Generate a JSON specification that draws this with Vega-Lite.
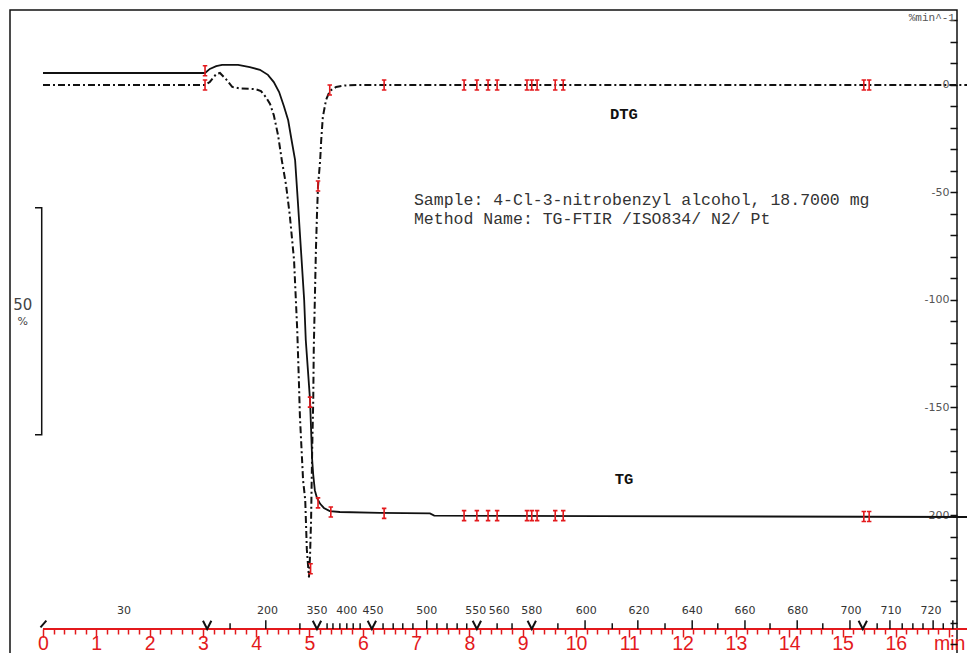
{
  "$schema": "https://vega.github.io/schema/vega-lite/v6.json",
  "width": 947,
  "height": 650,
  "autosize": {"type": "none"},
  "padding": {"left": 10, "top": 10, "right": 10, "bottom": 0},
  "background": "white",
  "config": {"view": {"stroke": "#111", "strokeWidth": 1.5}, "axis": {"grid": false, "labelOverlap": false, "labelFlush": false}},
  "datasets": {
    "dtg": [
      {"t": 0, "v": 0}, {"t": 3.04, "v": 0}, {"t": 3.13, "v": 1.4}, {"t": 3.25, "v": 5.1}, {"t": 3.32, "v": 5.6},
      {"t": 3.43, "v": 2.8}, {"t": 3.55, "v": -0.9}, {"t": 3.7, "v": -1.6}, {"t": 3.98, "v": -1.9}, {"t": 4.09, "v": -2.8},
      {"t": 4.18, "v": -5.6}, {"t": 4.26, "v": -8.8}, {"t": 4.33, "v": -14}, {"t": 4.41, "v": -23.3}, {"t": 4.48, "v": -34.9},
      {"t": 4.56, "v": -46.5}, {"t": 4.63, "v": -60.5}, {"t": 4.71, "v": -81.4}, {"t": 4.77, "v": -114}, {"t": 4.8, "v": -137},
      {"t": 4.82, "v": -154}, {"t": 4.88, "v": -184}, {"t": 4.92, "v": -193}, {"t": 4.95, "v": -216}, {"t": 4.99, "v": -229},
      {"t": 5.01, "v": -219}, {"t": 5.03, "v": -202}, {"t": 5.05, "v": -170}, {"t": 5.07, "v": -147}, {"t": 5.08, "v": -123},
      {"t": 5.1, "v": -100}, {"t": 5.12, "v": -77}, {"t": 5.14, "v": -60.5}, {"t": 5.16, "v": -47}, {"t": 5.2, "v": -35},
      {"t": 5.22, "v": -25.6}, {"t": 5.25, "v": -14.9}, {"t": 5.31, "v": -7}, {"t": 5.38, "v": -2.8}, {"t": 5.5, "v": -0.9},
      {"t": 5.67, "v": -0.2}, {"t": 5.95, "v": 0}, {"t": 17.34, "v": 0}
    ],
    "tg": [
      {"t": 0, "tg": 100}, {"t": 3.04, "tg": 100}, {"t": 3.13, "tg": 100.9}, {"t": 3.25, "tg": 101.5}, {"t": 3.36, "tg": 101.8},
      {"t": 3.66, "tg": 101.8}, {"t": 3.88, "tg": 101.3}, {"t": 4.07, "tg": 100.7}, {"t": 4.22, "tg": 99.6}, {"t": 4.33, "tg": 98.0},
      {"t": 4.43, "tg": 95.8}, {"t": 4.52, "tg": 92.7}, {"t": 4.6, "tg": 89.6}, {"t": 4.67, "tg": 84.8}, {"t": 4.73, "tg": 80.8},
      {"t": 4.78, "tg": 72.0}, {"t": 4.84, "tg": 61.0}, {"t": 4.9, "tg": 50.0}, {"t": 4.93, "tg": 41.2}, {"t": 4.97, "tg": 34.6},
      {"t": 5.01, "tg": 28.0}, {"t": 5.03, "tg": 21.4}, {"t": 5.05, "tg": 14.8}, {"t": 5.07, "tg": 11.5}, {"t": 5.1, "tg": 8.1},
      {"t": 5.14, "tg": 6.4}, {"t": 5.2, "tg": 5.1}, {"t": 5.27, "tg": 4.2}, {"t": 5.38, "tg": 3.5}, {"t": 5.57, "tg": 3.3},
      {"t": 6.32, "tg": 3.1}, {"t": 7.26, "tg": 3.0}, {"t": 7.34, "tg": 2.5}, {"t": 10.45, "tg": 2.4}, {"t": 17.34, "tg": 2.2}
    ],
    "dtgMarks": [
      {"t": 3.04, "v": 0}, {"t": 5.16, "v": -47}, {"t": 5.02, "v": -225}, {"t": 5.38, "v": -2.3}, {"t": 6.4, "v": 0},
      {"t": 7.9, "v": 0}, {"t": 8.14, "v": 0}, {"t": 8.35, "v": 0}, {"t": 8.52, "v": 0}, {"t": 9.08, "v": 0},
      {"t": 9.17, "v": 0}, {"t": 9.27, "v": 0}, {"t": 9.61, "v": 0}, {"t": 9.76, "v": 0}, {"t": 15.4, "v": 0}, {"t": 15.5, "v": 0}
    ],
    "tgMarks": [
      {"t": 3.04, "tg": 100.5}, {"t": 5.01, "tg": 27.5}, {"t": 5.16, "tg": 5.3}, {"t": 5.4, "tg": 3.3}, {"t": 6.4, "tg": 3.0},
      {"t": 7.9, "tg": 2.5}, {"t": 8.14, "tg": 2.5}, {"t": 8.35, "tg": 2.5}, {"t": 8.52, "tg": 2.5}, {"t": 9.08, "tg": 2.5},
      {"t": 9.17, "tg": 2.5}, {"t": 9.27, "tg": 2.5}, {"t": 9.61, "tg": 2.5}, {"t": 9.76, "tg": 2.5}, {"t": 15.4, "tg": 2.3}, {"t": 15.5, "tg": 2.3}
    ],
    "tempTicks": [
      {"t": 4.18, "kind": "major"}, {"t": 7.2, "kind": "major"}, {"t": 10.17, "kind": "major"}, {"t": 11.16, "kind": "major"},
      {"t": 12.18, "kind": "major"}, {"t": 13.17, "kind": "major"}, {"t": 14.15, "kind": "major"}, {"t": 15.14, "kind": "major"},
      {"t": 15.89, "kind": "major"}, {"t": 16.7, "kind": "major"}, {"t": 17.07, "kind": "major"},
      {"t": 3.51, "kind": "minor"}, {"t": 4.82, "kind": "minor"}, {"t": 5.33, "kind": "minor"}, {"t": 5.44, "kind": "minor"},
      {"t": 5.57, "kind": "minor"}, {"t": 5.7, "kind": "minor"}, {"t": 5.82, "kind": "minor"}, {"t": 5.95, "kind": "minor"},
      {"t": 6.38, "kind": "minor"}, {"t": 6.57, "kind": "minor"}, {"t": 6.75, "kind": "minor"}, {"t": 6.94, "kind": "minor"},
      {"t": 7.39, "kind": "minor"}, {"t": 7.58, "kind": "minor"}, {"t": 7.77, "kind": "minor"}, {"t": 7.95, "kind": "minor"},
      {"t": 8.52, "kind": "minor"}, {"t": 8.8, "kind": "minor"}, {"t": 9.66, "kind": "minor"}, {"t": 10.68, "kind": "minor"},
      {"t": 11.67, "kind": "minor"}, {"t": 12.66, "kind": "minor"}, {"t": 13.64, "kind": "minor"}, {"t": 14.63, "kind": "minor"},
      {"t": 15.65, "kind": "minor"}, {"t": 16.12, "kind": "minor"}, {"t": 16.32, "kind": "minor"}, {"t": 16.51, "kind": "minor"},
      {"t": 16.89, "kind": "minor"}
    ],
    "tempLabels": [
      {"t": 1.52, "label": "30"}, {"t": 4.21, "label": "200"}, {"t": 5.14, "label": "350"}, {"t": 5.7, "label": "400"},
      {"t": 6.19, "label": "450"}, {"t": 7.2, "label": "500"}, {"t": 8.12, "label": "550"}, {"t": 8.56, "label": "560"},
      {"t": 9.17, "label": "580"}, {"t": 10.19, "label": "600"}, {"t": 11.18, "label": "620"}, {"t": 12.18, "label": "640"},
      {"t": 13.17, "label": "660"}, {"t": 14.16, "label": "680"}, {"t": 15.16, "label": "700"}, {"t": 15.91, "label": "710"},
      {"t": 16.66, "label": "720"}
    ],
    "chevrons": [
      {"t": 0, "kind": "lt"}, {"t": 3.08, "kind": "v"}, {"t": 5.14, "kind": "v"}, {"t": 6.17, "kind": "v"},
      {"t": 8.14, "kind": "v"}, {"t": 9.17, "kind": "v"}, {"t": 15.38, "kind": "v"}
    ],
    "notes": [
      {"t": 6.96, "v": -53.5, "text": "Sample: 4-Cl-3-nitrobenzyl alcohol, 18.7000 mg"},
      {"t": 6.96, "v": -62.3, "text": "Method Name: TG-FTIR /ISO834/ N2/ Pt"}
    ],
    "curveLabels": [
      {"t": 10.9, "v": -13.5, "text": "DTG"},
      {"t": 10.9, "v": -183.3, "text": "TG"}
    ],
    "unit": [{"t": 17.11, "v": 31.2, "text": "%min^-1"}],
    "scaleBar": [
      {"t": -0.15, "tg": 70.3, "o": 1}, {"t": -0.024, "tg": 70.3, "o": 2},
      {"t": -0.024, "tg": 20.3, "o": 3}, {"t": -0.15, "tg": 20.3, "o": 4}
    ],
    "scaleText": [
      {"t": -0.38, "tg": 48.9, "text": "50", "size": "big"},
      {"t": -0.38, "tg": 45.1, "text": "%", "size": "small"}
    ]
  },
  "layer": [
    {
      "layer": [
        {
          "data": {"name": "dtg"},
          "mark": {"type": "line", "color": "#111", "strokeWidth": 2, "strokeDash": [7, 3, 2, 3]},
          "encoding": {
            "x": {"field": "t", "type": "quantitative", "scale": {"domain": [-0.619, 17.148], "nice": false, "zero": false},
              "axis": {"orient": "bottom", "offset": -31, "title": null, "domain": false, "tickCount": 300,
                "values": [0,0.2,0.4,0.6,0.8,1,1.2,1.4,1.6,1.8,2,2.2,2.4,2.6,2.8,3,3.2,3.4,3.6,3.8,4,4.2,4.4,4.6,4.8,5,5.2,5.4,5.6,5.8,6,6.2,6.4,6.6,6.8,7,7.2,7.4,7.6,7.8,8,8.2,8.4,8.6,8.8,9,9.2,9.4,9.6,9.8,10,10.2,10.4,10.6,10.8,11,11.2,11.4,11.6,11.8,12,12.2,12.4,12.6,12.8,13,13.2,13.4,13.6,13.8,14,14.2,14.4,14.6,14.8,15,15.2,15.4,15.6,15.8,16,16.2,16.4,16.6,16.8,17],
                "tickColor": "#e3191c", "tickWidth": 1.5,
                "tickSize": {"condition": {"test": "datum.value % 1 === 0", "value": 8}, "value": 5},
                "labelExpr": "datum.value % 1 === 0 ? (datum.value === 17 ? 'min' : '' + datum.value) : ''",
                "labelColor": "#e3191c", "labelFont": "Liberation Sans", "labelFontSize": 19.5,
                "labelPadding": -3, "labelOverlap": false, "labelFlush": false}},
            "y": {"field": "v", "type": "quantitative", "scale": {"domain": [-267.44, 34.88], "nice": false, "zero": false},
              "axis": {"orient": "left", "offset": -947, "title": null, "domain": false, "tickCount": 300,
                "values": [-260,-250,-240,-230,-220,-210,-200,-190,-180,-170,-160,-150,-140,-130,-120,-110,-100,-90,-80,-70,-60,-50,-40,-30,-20,-10,0,10,20,30],
                "tickColor": "#111", "tickSize": 7, "tickWidth": 1.5,
                "labelExpr": "abs(datum.value % 50) < 0.001 && datum.value > -210 ? '' + datum.value : ''",
                "labelColor": "#555", "labelFont": "DejaVu Sans", "labelFontSize": 11, "labelPadding": 1, "labelOverlap": false}}
          }
        },
        {
          "data": {"name": "dtgMarks"},
          "mark": {"type": "point", "shape": "M-0.45,-1H0.45M0,-1V1M-0.45,1H0.45", "size": 100, "color": "#e3191c", "strokeWidth": 1.6, "filled": false, "opacity": 1},
          "encoding": {
            "x": {"field": "t", "type": "quantitative"},
            "y": {"field": "v", "type": "quantitative"}
          }
        },
        {
          "data": {"values": [{}]},
          "mark": {"type": "rule", "color": "#e3191c", "strokeWidth": 2},
          "encoding": {
            "x": {"datum": 0, "type": "quantitative"},
            "x2": {"datum": 17.4},
            "y": {"datum": -253.0, "type": "quantitative"}
          }
        },
        {
          "data": {"name": "tempTicks"},
          "transform": [{"filter": "datum.kind === 'major'"}],
          "mark": {"type": "rule", "color": "#111", "strokeWidth": 1.5},
          "encoding": {
            "x": {"field": "t", "type": "quantitative"},
            "y": {"datum": -253.0, "type": "quantitative"},
            "y2": {"datum": -249.0}
          }
        },
        {
          "data": {"name": "tempTicks"},
          "transform": [{"filter": "datum.kind === 'minor'"}],
          "mark": {"type": "rule", "color": "#111", "strokeWidth": 1.5},
          "encoding": {
            "x": {"field": "t", "type": "quantitative"},
            "y": {"datum": -253.0, "type": "quantitative"},
            "y2": {"datum": -250.4}
          }
        },
        {
          "data": {"name": "chevrons"},
          "mark": {"type": "point", "filled": false, "color": "#111", "strokeWidth": 2, "size": 70, "opacity": 1},
          "encoding": {
            "x": {"field": "t", "type": "quantitative"},
            "y": {"datum": -251.1, "type": "quantitative"},
            "shape": {"field": "kind", "type": "nominal", "legend": null,
              "scale": {"domain": ["v", "lt"], "range": ["M-1,-1L0,1L1,-1", "M0.8,-1L-0.6,0.6"]}}
          }
        },
        {
          "data": {"name": "tempLabels"},
          "mark": {"type": "text", "font": "DejaVu Sans", "fontSize": 11, "color": "#333", "align": "center", "baseline": "middle"},
          "encoding": {
            "x": {"field": "t", "type": "quantitative"},
            "y": {"datum": -244.6, "type": "quantitative"},
            "text": {"field": "label"}
          }
        },
        {
          "data": {"name": "notes"},
          "mark": {"type": "text", "font": "Liberation Mono", "fontSize": 16.5, "color": "#333", "align": "left", "baseline": "middle"},
          "encoding": {
            "x": {"field": "t", "type": "quantitative"},
            "y": {"field": "v", "type": "quantitative"},
            "text": {"field": "text"}
          }
        },
        {
          "data": {"name": "curveLabels"},
          "mark": {"type": "text", "font": "Liberation Mono", "fontSize": 15.5, "fontWeight": "bold", "color": "#111", "align": "center", "baseline": "middle"},
          "encoding": {
            "x": {"field": "t", "type": "quantitative"},
            "y": {"field": "v", "type": "quantitative"},
            "text": {"field": "text"}
          }
        },
        {
          "data": {"name": "unit"},
          "mark": {"type": "text", "font": "Liberation Mono", "fontSize": 11, "color": "#555", "align": "right", "baseline": "middle"},
          "encoding": {
            "x": {"field": "t", "type": "quantitative"},
            "y": {"field": "v", "type": "quantitative"},
            "text": {"field": "text"}
          }
        }
      ]
    },
    {
      "layer": [
        {
          "data": {"name": "tg"},
          "mark": {"type": "line", "color": "#111", "strokeWidth": 1.8},
          "encoding": {
            "x": {"field": "t", "type": "quantitative"},
            "y": {"field": "tg", "type": "quantitative", "scale": {"domain": [-29.3, 113.88], "nice": false, "zero": false}, "axis": null}
          }
        },
        {
          "data": {"name": "tgMarks"},
          "mark": {"type": "point", "shape": "M-0.45,-1H0.45M0,-1V1M-0.45,1H0.45", "size": 100, "color": "#e3191c", "strokeWidth": 1.6, "filled": false, "opacity": 1},
          "encoding": {
            "x": {"field": "t", "type": "quantitative"},
            "y": {"field": "tg", "type": "quantitative", "axis": null}
          }
        },
        {
          "data": {"name": "scaleBar"},
          "mark": {"type": "line", "color": "#111", "strokeWidth": 1.5},
          "encoding": {
            "x": {"field": "t", "type": "quantitative"},
            "y": {"field": "tg", "type": "quantitative", "axis": null},
            "order": {"field": "o", "type": "quantitative"}
          }
        },
        {
          "data": {"name": "scaleText"},
          "transform": [{"filter": "datum.size === 'big'"}],
          "mark": {"type": "text", "font": "DejaVu Sans", "fontSize": 15, "color": "#444", "align": "center", "baseline": "middle"},
          "encoding": {
            "x": {"field": "t", "type": "quantitative"},
            "y": {"field": "tg", "type": "quantitative", "axis": null},
            "text": {"field": "text"}
          }
        },
        {
          "data": {"name": "scaleText"},
          "transform": [{"filter": "datum.size === 'small'"}],
          "mark": {"type": "text", "font": "DejaVu Sans", "fontSize": 11, "color": "#444", "align": "center", "baseline": "middle"},
          "encoding": {
            "x": {"field": "t", "type": "quantitative"},
            "y": {"field": "tg", "type": "quantitative", "axis": null},
            "text": {"field": "text"}
          }
        }
      ]
    }
  ],
  "resolve": {"scale": {"y": "independent"}}
}
